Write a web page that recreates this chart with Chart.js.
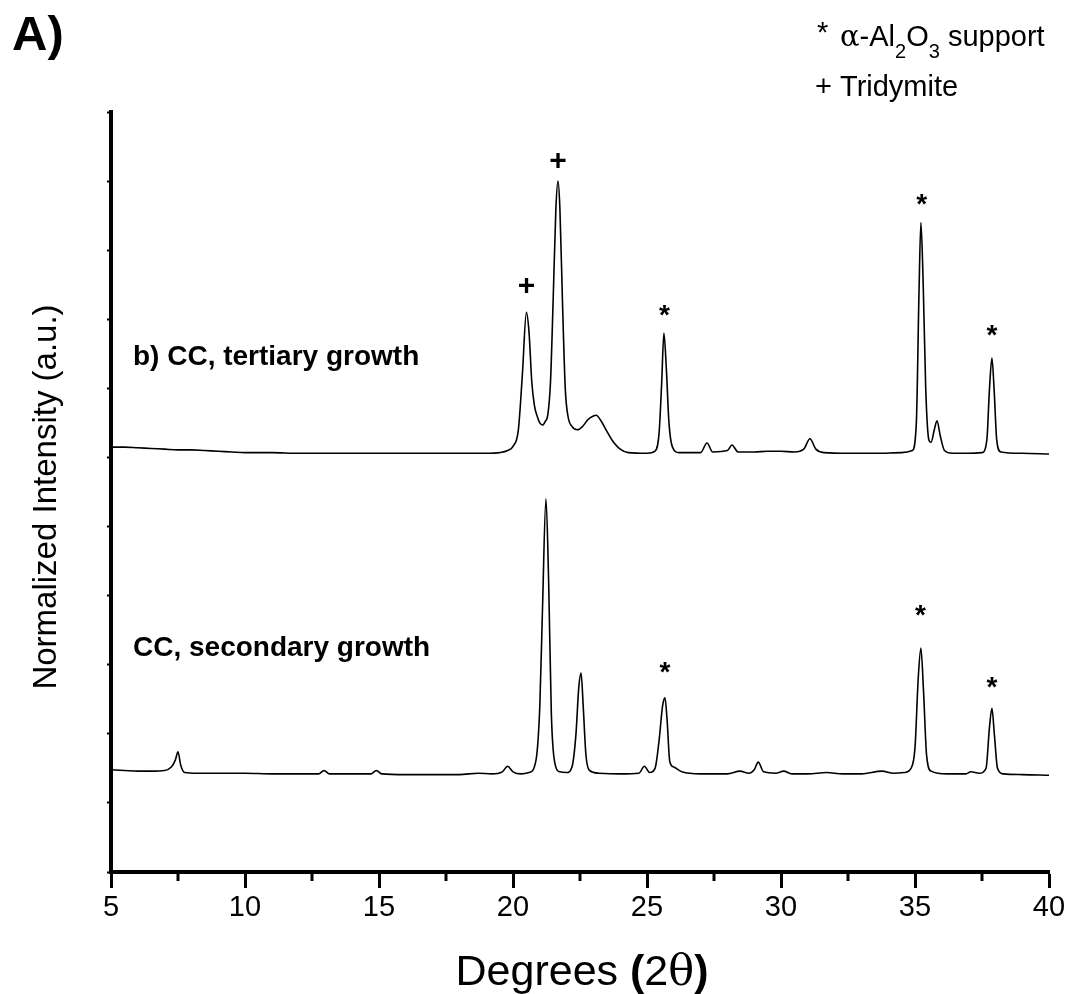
<!DOCTYPE html>
<html>
<head>
<meta charset="utf-8">
<script src="https://cdn.jsdelivr.net/npm/chart.js@4/dist/chart.umd.min.js"></script>
<style>
  html, body { margin: 0; padding: 0; background: #fff; }
  #wrap { width: 1070px; height: 994px; }
</style>
</head>
<body>
<div id="wrap"><canvas id="xrd"></canvas></div>
<script>
// b) CC, tertiary growth (offset trace)
const tertiaryAngle = [
  5.0, 5.5, 6.0, 6.5, 7.0, 7.5, 8.0, 8.5, 9.0, 9.5, 10.0, 11, 12, 13, 14, 15, 16, 17, 18, 19,
  19.5, 19.8, 20.0, 20.2, 20.35, 20.5, 20.6, 20.7, 20.8, 20.9, 21.0, 21.1, 21.2, 21.3, 21.4,
  21.5, 21.6, 21.68, 21.75, 21.85, 21.95, 22.05, 22.2, 22.4, 22.6, 22.8, 23.0, 23.1, 23.3,
  23.5, 23.7, 24.0, 24.3, 25.0, 25.3, 25.45, 25.55, 25.63, 25.72, 25.82, 25.95, 26.2, 27.0,
  27.24, 27.45, 28.0, 28.17, 28.4, 29.0, 29.5, 30.0, 30.5, 30.85, 31.08, 31.3, 31.6, 32.5,
  33.5, 34.5, 34.9, 35.05, 35.15, 35.22, 35.3, 35.4, 35.52, 35.6, 35.72, 35.82, 35.95, 36.1,
  36.4, 37.0, 37.5, 37.68, 37.78, 37.87, 37.95, 38.05, 38.2, 39.0, 40.0
];
const tertiaryIntensity = [
  6.15, 6.15, 6.14, 6.13, 6.12, 6.11, 6.11, 6.10, 6.09, 6.08, 6.07, 6.07, 6.06, 6.06, 6.06, 6.06, 6.06, 6.06, 6.06, 6.06,
  6.07, 6.10, 6.16, 6.40, 7.20, 8.10, 7.80, 7.10, 6.75, 6.60, 6.50, 6.47, 6.52, 6.62, 7.10,
  8.30, 9.60, 10.00, 9.60, 8.20, 7.00, 6.60, 6.45, 6.40, 6.45, 6.55, 6.60, 6.61, 6.52,
  6.38, 6.25, 6.12, 6.07, 6.06, 6.09, 6.35, 7.10, 7.80, 7.30, 6.50, 6.15, 6.07, 6.07,
  6.21, 6.08, 6.10, 6.18, 6.08, 6.08, 6.09, 6.09, 6.08, 6.12, 6.27, 6.12, 6.07, 6.06,
  6.06, 6.07, 6.10, 6.50, 8.40, 9.40, 8.60, 7.00, 6.25, 6.22, 6.40, 6.53, 6.30, 6.10,
  6.06, 6.06, 6.07, 6.25, 7.00, 7.44, 7.00, 6.25, 6.08, 6.06, 6.05
];

// CC, secondary growth
const secondaryAngle = [
  5.0, 5.5, 6.0, 6.5, 7.0, 7.25, 7.4, 7.5, 7.6, 7.75, 8.2, 9, 10, 11, 12, 12.75, 12.95, 13.15,
  14, 14.7, 14.9, 15.1, 16, 17, 18, 18.7, 19.2, 19.6, 19.8, 20.0, 20.3, 20.6, 20.85, 21.0,
  21.1, 21.23, 21.33, 21.43, 21.55, 21.75, 22.0, 22.2, 22.35, 22.45, 22.54, 22.62, 22.72,
  22.85, 23.2, 24.0, 24.7, 24.9, 25.1, 25.3, 25.45, 25.58, 25.67, 25.75, 25.85, 26.0, 26.3,
  27, 28, 28.47, 28.8, 29.0, 29.15, 29.35, 29.8, 30.1, 30.4, 31, 31.7, 32.3, 33, 33.77, 34.2,
  34.6, 34.85, 35.0, 35.12, 35.22, 35.32, 35.43, 35.6, 36.2, 36.9, 37.08, 37.4, 37.65, 37.78,
  37.87, 37.96, 38.08, 38.3, 39, 40
];
const secondaryIntensity = [
  1.48, 1.47, 1.46, 1.46, 1.47, 1.52, 1.62, 1.74, 1.55, 1.44, 1.43, 1.43, 1.43, 1.42, 1.42, 1.42, 1.47, 1.42,
  1.42, 1.42, 1.47, 1.42, 1.41, 1.41, 1.41, 1.43, 1.42, 1.45, 1.53, 1.45, 1.42, 1.44, 1.60, 2.40,
  3.80, 5.40, 4.20, 2.30, 1.60, 1.45, 1.44, 1.52, 2.00, 2.65, 2.88, 2.40, 1.70,
  1.47, 1.43, 1.42, 1.43, 1.53, 1.44, 1.50, 1.90, 2.40, 2.52, 2.20, 1.60, 1.52, 1.45,
  1.42, 1.42, 1.46, 1.43, 1.48, 1.59, 1.45, 1.43, 1.46, 1.42, 1.42, 1.44, 1.42, 1.42, 1.46, 1.43,
  1.44, 1.50, 1.80, 2.80, 3.24, 2.60, 1.70, 1.46, 1.42, 1.42, 1.45, 1.43, 1.50, 2.10,
  2.37, 2.00, 1.50, 1.42, 1.41, 1.40
];

const xTicks = [5, 10, 15, 20, 25, 30, 35, 40];
const xMinorTicks = [7.5, 12.5, 17.5, 22.5, 27.5, 32.5, 37.5];

// peak markers: [angle, height, symbol]
const peakMarks = [
  [20.5, 8.47, '+'], [21.68, 10.28, '+'], [25.65, 8.13, '*'], [35.25, 9.73, '*'], [37.87, 7.84, '*'],
  [25.67, 2.97, '*'], [35.2, 3.79, '*'], [37.87, 2.75, '*']
];

const toPoints = (xs, ys) => xs.map((x, i) => ({ x, y: ys[i] }));

const FONT = '"Liberation Sans", Arial, sans-serif';

const extras = {
  id: 'extras',
  afterDraw(chart) {
    const { ctx, chartArea } = chart;
    const xs = chart.scales.x, ys = chart.scales.y;
    ctx.save();
    ctx.fillStyle = '#000';
    ctx.strokeStyle = '#000';

    // minor ticks
    ctx.lineWidth = 3;
    xMinorTicks.forEach(v => {
      const px = Math.round(xs.getPixelForValue(v));
      ctx.beginPath();
      ctx.moveTo(px, chartArea.bottom);
      ctx.lineTo(px, chartArea.bottom + 9);
      ctx.stroke();
    });

    // panel letter
    ctx.font = 'bold 49px ' + FONT;
    ctx.textBaseline = 'alphabetic';
    ctx.textAlign = 'left';
    ctx.fillText('A)', 12, 50);

    // legend
    ctx.font = '29px ' + FONT;
    ctx.fillText('*', 817, 42);
    let x = 840;
    ctx.font = '29px "DejaVu Serif", serif';
    ctx.fillText('\u03b1', x, 46);
    x += ctx.measureText('\u03b1').width;
    ctx.font = '29px ' + FONT;
    ctx.fillText('-Al', x, 46);
    x += ctx.measureText('-Al').width;
    ctx.font = '20px ' + FONT;
    ctx.fillText('2', x, 58);
    x += ctx.measureText('2').width;
    ctx.font = '29px ' + FONT;
    ctx.fillText('O', x, 46);
    x += ctx.measureText('O').width;
    ctx.font = '20px ' + FONT;
    ctx.fillText('3', x, 58);
    x += ctx.measureText('3').width;
    ctx.font = '29px ' + FONT;
    ctx.fillText(' support', x, 46);
    ctx.fillText('+ Tridymite', 815, 96);

    // sample labels
    ctx.font = 'bold 28px ' + FONT;
    ctx.fillText('b) CC, tertiary growth', 133, 365);
    ctx.fillText('CC, secondary growth', 133, 656);

    // peak markers
    ctx.textAlign = 'center';
    ctx.textBaseline = 'middle';
    peakMarks.forEach(([a, h, s]) => {
      ctx.font = (s === '*' ? 'bold 28px ' : 'bold 30px ') + FONT;
      const px = xs.getPixelForValue(a);
      const py = ys.getPixelForValue(h) + (s === '*' ? 6 : 0);
      ctx.fillText(s, px, py);
    });

    // x title: Degrees (2θ)
    ctx.textAlign = 'left';
    ctx.textBaseline = 'alphabetic';
    const parts = [
      ['Degrees ', '43px ' + FONT],
      ['(', 'bold 43px ' + FONT],
      ['2', '43px ' + FONT],
      ['\u03b8', '43px "DejaVu Serif", serif'],
      [')', 'bold 43px ' + FONT]
    ];
    let total = 0;
    parts.forEach(([t, f]) => { ctx.font = f; total += ctx.measureText(t).width; });
    let cx = 582 - total / 2;
    parts.forEach(([t, f]) => {
      ctx.font = f;
      ctx.fillText(t, cx, 985);
      cx += ctx.measureText(t).width;
    });

    // y title
    ctx.translate(56, 497);
    ctx.rotate(-Math.PI / 2);
    ctx.textAlign = 'center';
    ctx.font = '33px ' + FONT;
    ctx.fillText('Normalized Intensity (a.u.)', 0, 0);
    ctx.restore();
  }
};

new Chart(document.getElementById('xrd'), {
  type: 'line',
  data: {
    datasets: [
      {
        label: 'b) CC, tertiary growth',
        data: toPoints(tertiaryAngle, tertiaryIntensity),
        borderColor: '#000',
        borderWidth: 1.6,
        pointRadius: 0,
        cubicInterpolationMode: 'monotone',
        fill: false,
      },
      {
        label: 'CC, secondary growth',
        data: toPoints(secondaryAngle, secondaryIntensity),
        borderColor: '#000',
        borderWidth: 1.6,
        pointRadius: 0,
        cubicInterpolationMode: 'monotone',
        fill: false,
      },
    ],
  },
  options: {
    responsive: true,
    maintainAspectRatio: false,
    animation: false,
    layout: { padding: { left: 111, top: 112, right: 21, bottom: 0 } },
    plugins: {
      legend: { display: false },
      tooltip: { enabled: false },
    },
    scales: {
      x: {
        type: 'linear',
        min: 5,
        max: 40,
        afterBuildTicks: s => { s.ticks = xTicks.map(v => ({ value: v })); },
        afterFit: s => { s.height = 122; },
        border: { color: '#000', width: 4 },
        grid: { drawOnChartArea: false, drawTicks: true, tickLength: 16, tickWidth: 3, tickColor: '#000' },
        ticks: { color: '#000', font: { family: FONT, size: 29 }, padding: 3, maxRotation: 0 },
      },
      y: {
        type: 'linear',
        min: 0,
        max: 11,
        afterFit: s => { s.width = 0; },
        border: { color: '#000', width: 4 },
        grid: { drawOnChartArea: false, drawTicks: true, tickLength: 4, tickWidth: 2, tickColor: '#000' },
        ticks: { display: false, stepSize: 1 },
      },
    },
  },
  plugins: [extras],
});
</script>
</body>
</html>
